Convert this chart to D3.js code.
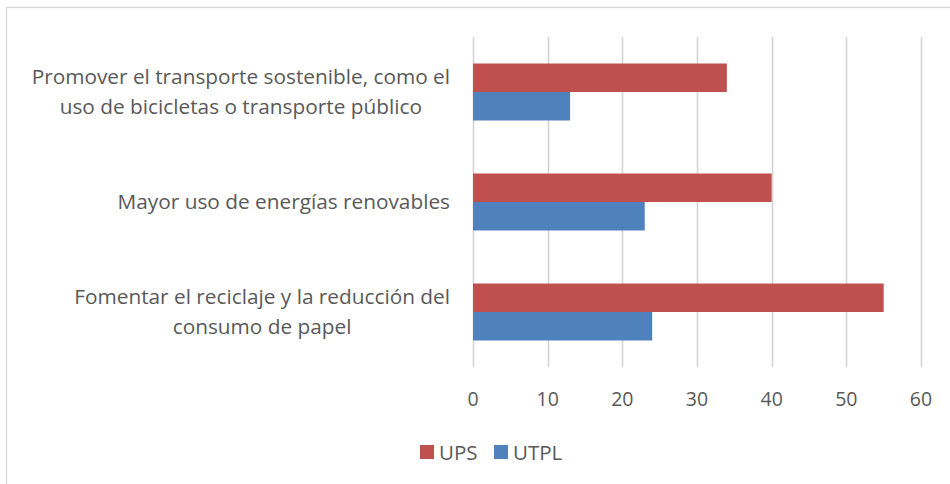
<!DOCTYPE html>
<html lang="es">

<head>
    <meta charset="utf-8">
    <style>
        body { margin: 0; background: #fff; }
        text { font-family: "Open Sans", "Noto Sans", sans-serif; fill: #595959; }
    </style>
</head>

<body>
    <script src="https://d3js.org/d3.v7.min.js"></script>
    <div id="chart"></div>
    <script>
        // data
        var categories = [
            ["Promover el transporte sostenible, como el", "uso de bicicletas o transporte público"],
            ["Mayor uso de energías renovables"],
            ["Fomentar el reciclaje y la reducción del", "consumo de papel"]
        ];
        var seriesNames = ["UPS", "UTPL"];
        var upsValues = [34, 40, 55];
        var utplValues = [13, 23, 24];
        var tickValues = [0, 10, 20, 30, 40, 50, 60];
        var colors = ["#C0504D", "#4F81BD"];

        var width = 950, height = 484;
        var plot = { left: 473, right: 921, top: 37, bottom: 367 };

        var svg = d3.select("#chart").append("svg")
            .attr("width", width)
            .attr("height", height);

        // outer chart border
        svg.append("rect")
            .attr("x", 6.5).attr("y", 7.5)
            .attr("width", 960).attr("height", 490)
            .style("fill", "none")
            .style("stroke", "#d9d9d9")
            .style("stroke-width", 1.3);

        var x = d3.scaleLinear().domain([0, 60]).range([plot.left, plot.right]);
        var y = d3.scaleBand().domain(d3.range(categories.length)).range([plot.top, plot.bottom]);
        var sub = d3.scaleBand().domain([0, 1]).range([0, y.bandwidth()]).paddingOuter(0.93);

        // vertical gridlines
        svg.append("g").selectAll("line")
            .data(tickValues)
            .enter().append("line")
            .attr("x1", function (d) { return Math.round(x(d)) + 0.5; })
            .attr("x2", function (d) { return Math.round(x(d)) + 0.5; })
            .attr("y1", plot.top).attr("y2", plot.bottom)
            .style("stroke", "#d4d4d4")
            .style("stroke-width", 1.6);

        // x tick labels
        svg.append("g").selectAll("text")
            .data(tickValues)
            .enter().append("text")
            .attr("x", function (d) { return x(d); })
            .attr("y", 406)
            .attr("text-anchor", "middle")
            .style("font-size", "19.5px")
            .text(function (d) { return d; });

        // bars
        var rows = categories.map(function (c, i) { return [upsValues[i], utplValues[i]]; });
        var groups = svg.append("g").selectAll("g")
            .data(rows)
            .enter().append("g")
            .attr("transform", function (d, i) { return "translate(0," + y(i) + ")"; });
        groups.selectAll("rect")
            .data(function (d) { return d; })
            .enter().append("rect")
            .attr("x", x(0))
            .attr("y", function (d, j) { return sub(j); })
            .attr("width", function (d) { return x(d) - x(0); })
            .attr("height", sub.bandwidth())
            .style("fill", function (d, j) { return colors[j]; });

        // category labels: block right aligned, lines centred in block
        var labelRight = 450, lineH = 30;
        categories.forEach(function (lines, i) {
            var g = svg.append("g");
            var texts = g.selectAll("text")
                .data(lines)
                .enter().append("text")
                .style("font-size", "20.8px")
                .attr("text-anchor", "middle")
                .attr("y", function (d, k) {
                    return y(i) + y.bandwidth() / 2 + 7 + (k - (lines.length - 1) / 2) * lineH;
                })
                .text(function (d) { return d; });
            var maxW = d3.max(texts.nodes(), function (n) { return n.getComputedTextLength(); });
            texts.attr("x", labelRight - maxW / 2);
        });

        // legend
        var legend = svg.append("g").attr("transform", "translate(420,445)");
        var legendX = [0, 74];
        seriesNames.forEach(function (name, j) {
            legend.append("rect")
                .attr("x", legendX[j]).attr("y", 0)
                .attr("width", 14).attr("height", 14)
                .style("fill", colors[j]);
            legend.append("text")
                .attr("x", legendX[j] + 19).attr("y", 15)
                .style("font-size", "20.5px")
                .text(name);
        });
    </script>
</body>

</html>
